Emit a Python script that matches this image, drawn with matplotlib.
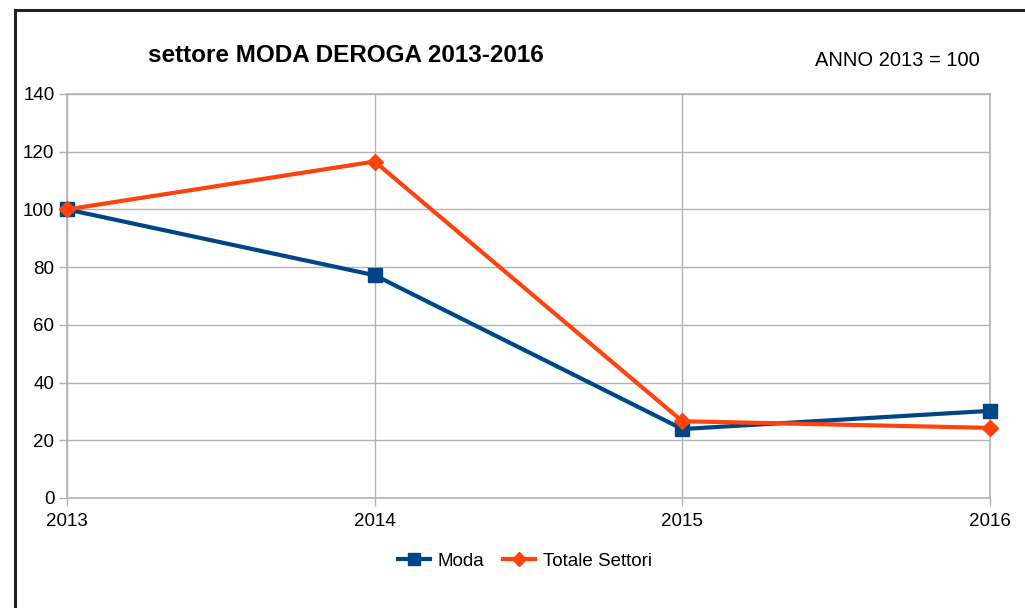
import matplotlib.pyplot as plt
from matplotlib.lines import Line2D

plt.rcParams['font.family'] = ['Liberation Sans', 'DejaVu Sans']

# data (index, 2013 = 100)
anni = [2013, 2014, 2015, 2016]
moda = [100, 77.2, 23.9, 30.2]
totale = [100, 116.6, 26.6, 24.3]

blue = '#004586'
orange = '#ff420e'
grid_col = '#b3b3b3'

fig = plt.figure(figsize=(10.25, 6.08), dpi=100)
ax = fig.add_axes([67 / 1025, 1 - 498 / 608, (990 - 67) / 1025, (498 - 94) / 608])

ax.plot(anni, moda, color=blue, lw=3, marker='s', ms=10, label='Moda', zorder=3, clip_on=False)
ax.plot(anni, totale, color=orange, lw=3, marker='D', ms=8, label='Totale Settori', zorder=4, clip_on=False)

ax.set_xlim(2013, 2016)
ax.set_ylim(0, 140)
ax.set_xticks(anni)
ax.set_yticks(range(0, 141, 20))
ax.grid(True, color=grid_col, lw=1)
ax.set_axisbelow(True)
for s in ax.spines.values():
    s.set_color(grid_col)
    s.set_linewidth(1.2)
ax.tick_params(axis='both', colors=grid_col, labelcolor='black', labelsize=13.5, length=6, width=1)
ax.tick_params(axis='x', pad=5)
ax.tick_params(axis='y', pad=3)

fig.text(346 / 1025, 1 - 55 / 608, 'settore MODA DEROGA 2013-2016', ha='center', va='center',
         fontsize=17.5, fontweight='bold')
fig.text(897 / 1025, 1 - 61 / 608, 'ANNO 2013 = 100', ha='center', va='center', fontsize=14.5)

handles = [Line2D([], [], color=blue, lw=3, marker='s', ms=9),
           Line2D([], [], color=orange, lw=3, marker='D', ms=7)]
fig.legend(handles, ['Moda', 'Totale Settori'], loc='center', bbox_to_anchor=(525 / 1025, 1 - 561 / 608),
           ncol=2, frameon=False, fontsize=13.5, handlelength=1.7, columnspacing=1.0, handletextpad=0.4)

# frame of the original image (left and top edges only)
fig.add_artist(Line2D([15 / 1025, 15 / 1025], [0, 1 - 10 / 608], color='#222222', lw=2.2,
                      transform=fig.transFigure))
fig.add_artist(Line2D([15 / 1025, 1], [1 - 10 / 608, 1 - 10 / 608], color='#222222', lw=2.2,
                      transform=fig.transFigure))

fig.savefig('out.png', dpi=100)
